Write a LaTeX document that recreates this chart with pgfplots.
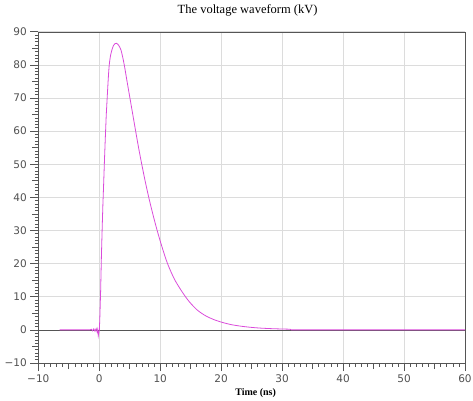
\documentclass[border=0pt]{standalone}
\usepackage{pgfplots}
\pgfplotsset{compat=1.18}
\usepackage{fontspec}
\setmainfont{Liberation Serif}
\newfontfamily\tickfont{DejaVu Sans}
\definecolor{wave}{RGB}{218,75,218}
\definecolor{axgray}{RGB}{85,85,85}
\definecolor{gridgray}{RGB}{220,220,220}
\definecolor{lblgray}{RGB}{80,80,80}
\begin{document}
\begin{tikzpicture}
\begin{axis}[
  scale only axis,
  width=426.7pt, height=331.3pt,
  xmin=-10, xmax=60, ymin=-10, ymax=90,
  xtick={-10,0,...,60}, ytick={-10,0,...,90},
  xticklabels={−10,0,10,20,30,40,50,60},
  yticklabels={−10,0,10,20,30,40,50,60,70,80,90},
  minor x tick num=9, minor y tick num=9,
  extra x ticks={-5,5,15,25,35,45,55},
  extra y ticks={-5,5,15,25,35,45,55,65,75,85},
  extra x tick labels={}, extra y tick labels={},
  extra tick style={major tick length=6pt, grid=none},
  major tick length=8pt, minor tick length=3.5pt,
  tick align=outside,
  xtick pos=bottom, ytick pos=left,
  axis line style={axgray},
  every tick/.style={axgray, line width=0.6pt},
  grid=major,
  major grid style={gridgray, line width=0.6pt},
  ticklabel style={font=\tickfont\fontsize{10.5}{12}\selectfont, text=lblgray},
  title={The voltage waveform (kV)},
  title style={font=\fontsize{12.5}{14}\selectfont, at={(0.5,1)}, anchor=center, yshift=15.7pt, xshift=-4pt},
  xlabel={Time (ns)},
  xlabel style={font=\bfseries\fontsize{10}{12}\selectfont, at={(0.5,0)}, anchor=center, yshift=-30pt, xshift=4pt},
  clip=true,
]
\path (rel axis cs:0,0) coordinate (sw);
\addplot[axgray, line width=0.7pt] coordinates {(-10,0) (60,0)};
\addplot[wave, line width=0.8pt] coordinates {
(-6.5,0) (-1.5,0) (-1.3,0.2) (-1.1,-0.3) (-0.9,0.3) (-0.7,-0.4) (-0.5,0.4)
(-0.35,-0.6) (-0.25,0.2) (-0.16,-1.8) (-0.05,-0.6) (0.02,0) (0.1,4) (0.23,12)
(0.35,22) (0.5,32) (0.6,38) (0.72,44) (0.85,51) (0.98,57.3) (1.15,65) (1.37,72.4)
};
\addplot[wave, line width=0.8pt, smooth, tension=0.5] coordinates {
(1.37,72.4)
(1.5,76.5) (1.64,80) (1.85,82.8) (2.08,84.5) (2.35,85.9) (2.6,86.4) (2.85,86.5)
(3.1,86.1) (3.35,85.4) (3.56,84.5) (3.8,82.7) (4.1,80) (4.56,75) (5.03,70)
(5.5,65) (5.97,60) (6.45,55) (6.97,50) (7.52,45) (8.12,40) (8.78,35) (9.5,30)
(10.3,25) (11.2,20) (12.25,15.6) (13.2,12.6) (14.3,9.6) (15.1,7.8) (16.0,6.1)
(16.8,5.0) (17.6,4.1) (18.8,3.1) (20.2,2.25) (21.6,1.6) (23.1,1.15) (24.7,0.8)
(26.3,0.55) (28.5,0.35) (31.3,0.2)
};
\addplot[wave, line width=0.8pt] coordinates {(31.3,0.2) (31.5,0) (60,0)};
\end{axis}
\pgfresetboundingbox
\path (sw) ++(-38.3pt,-37pt) rectangle ++(473pt,400pt);
\end{tikzpicture}
\end{document}
